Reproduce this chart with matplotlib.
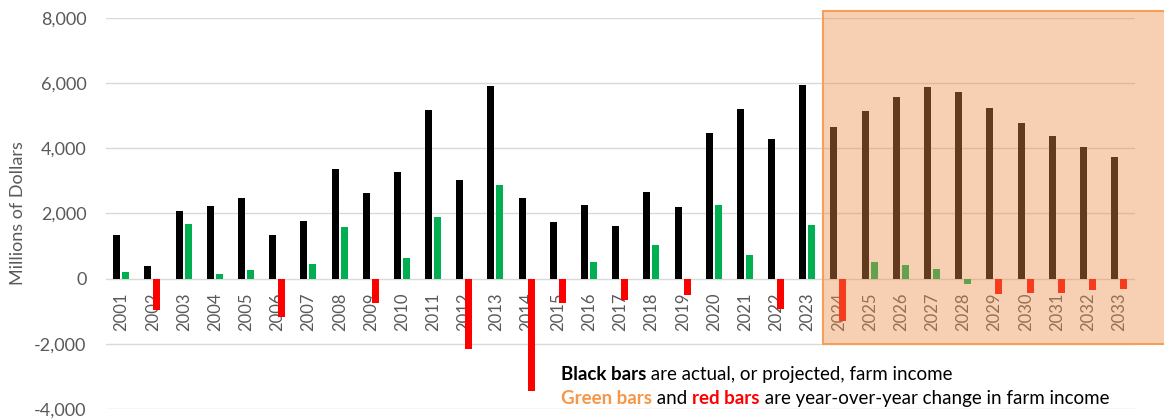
import matplotlib
matplotlib.use("Agg")
import matplotlib.pyplot as plt
from matplotlib.patches import Rectangle
import numpy as np

plt.rcParams['font.family'] = ['Lato', 'DejaVu Sans']

years = [str(y) for y in range(2001, 2034)]

# Farm income, millions of dollars (2024 onward projected)
income = [1340, 400, 2070, 2225, 2490, 1330, 1770, 3355, 2625, 3260,
          5170, 3025, 5915, 2470, 1730, 2265, 1630, 2675, 2195, 4470,
          5210, 4275, 5940, 4645, 5155, 5575, 5875, 5725, 5230, 4790,
          4370, 4040, 3735]

# Year-over-year change in farm income
change = [200, -950, 1670, 150, 260, -1170, 440, 1580, -740, 635,
          1900, -2145, 2890, -3450, -745, 520, -640, 1035, -495, 2270,
          730, -935, 1660, -1300, 500, 415, 290, -165, -485, -450,
          -425, -335, -308]

# 2028 change is drawn in green in the source series despite being negative
change_colors = ['#00B050' if (c >= 0 or yr == '2028') else '#FF0000'
                 for c, yr in zip(change, years)]

yticks = [-4000, -2000, 0, 2000, 4000, 6000, 8000]

W, H = 1164, 419
fig = plt.figure(figsize=(W / 100, H / 100), dpi=100)
ax = fig.add_axes([106 / W, 1 - 409 / H, (1135 - 106) / W, (409 - 18) / H])

x = np.arange(len(years))
bw = 0.225
ax.bar(x - 0.155, income, width=bw, color='black', zorder=3)
ax.bar(x + 0.135, change, width=bw, color=change_colors, zorder=3)

ax.set_xlim(-0.5, len(years) - 0.5)
ax.set_ylim(-4000, 8000)
ax.set_yticks(yticks)
ax.set_yticklabels([f"{v:,}" for v in yticks])
ax.set_xticks(x)
ax.set_xticklabels(years)

for s in ax.spines.values():
    s.set_visible(False)
ax.spines['bottom'].set_position(('data', 0))
ax.tick_params(axis='both', length=0, colors='#595959')
ax.tick_params(axis='y', labelsize=13, pad=14)
ax.tick_params(axis='x', labelsize=12, pad=10, labelrotation=90)
ax.yaxis.grid(True, color='#D9D9D9', linewidth=1)
ax.set_axisbelow(True)

fig.text(18.5 / W, 1 - 213 / H, "Millions of Dollars", rotation=90,
         ha='center', va='center', color='#595959', fontsize=13)

# Shaded projection period
ax.add_patch(Rectangle((22.5, -1990), 20, 10215, transform=ax.transData,
                       facecolor=(236 / 255, 143 / 255, 74 / 255, 0.42),
                       edgecolor='#F5A05A', linewidth=1.5,
                       clip_on=False, zorder=10))

# Explanatory note with coloured key words
renderer = fig.canvas.get_renderer()


def rich_line(x_px, base_px, parts, size=13.5):
    xp = x_px
    for s, color, weight in parts:
        t = fig.text(xp / W, 1 - base_px / H, s, color=color, fontweight=weight,
                     fontsize=size, ha='left', va='baseline')
        xp += t.get_window_extent(renderer).width


rich_line(561, 380, [("Black bars", 'black', 'bold'),
                     (" are actual, or projected, farm income", 'black', 'normal')])
rich_line(561, 404, [("Green bars", '#F79646', 'bold'),
                     (" and ", 'black', 'normal'),
                     ("red bars", '#FF0000', 'bold'),
                     (" are year-over-year change in farm income", 'black', 'normal')])

fig.savefig("out.png", dpi=100)
